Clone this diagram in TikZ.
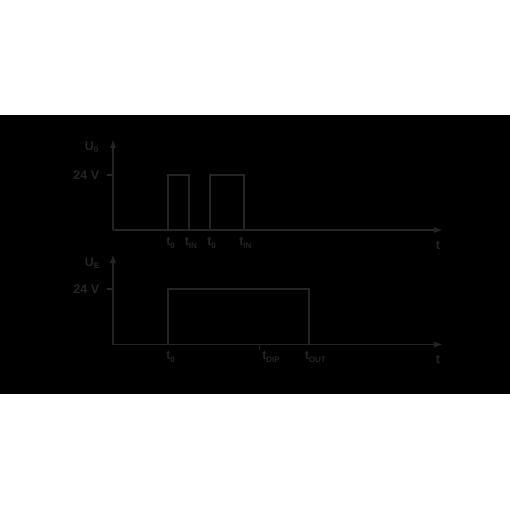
\documentclass[tikz,border=0pt]{standalone}
\usepackage{fontspec}
\setmainfont{Liberation Sans}
\usetikzlibrary{arrows.meta}
\definecolor{ink}{gray}{0.14}
\newcommand{\tlab}[1]{t\raisebox{-3pt}{\fontsize{8}{8}\selectfont #1}}
\newcommand{\ulab}[1]{U\raisebox{-2pt}{\fontsize{8}{8}\selectfont #1}}

\begin{document}
\begin{tikzpicture}[x=1pt, y=-1pt, line width=1.6pt, >={Latex[length=9pt,width=6pt]},
	lbl/.style={font=\bfseries\fontsize{12.5}{14}\selectfont, text=ink, inner sep=0pt}]
	\useasboundingbox (0,0) rectangle (510,510);
	\fill[white] (0,0) rectangle (510,510);
	\fill[black] (0,115.5) rectangle (510,394);
	
	% upper plot
	\coordinate (oa) at (113,230);
	\draw[ink,->] (oa) -- (113,139) coordinate (ya);
	\draw[ink,->] (oa) -- (443,230) coordinate (xa);
	\draw[ink] (107,175) -- (113,175);
	\draw[ink] (168,230) -- (168,175) -- (189,175) -- (189,230);
	\draw[ink] (210,230) -- (210,175) -- (244,175) -- (244,230);
	
	\node[lbl, anchor=base west] (ua) at (84,151) {\ulab{0}};
	\node[lbl, anchor=base east] (va) at (100,179.5) {24 V};
	\node[lbl, anchor=base west] (ta) at (435,249) {t};
	\node[lbl, anchor=base west] (t0a) at (165.5,245) {\tlab{0}};
	\node[lbl, anchor=base west] (tia) at (184,245) {\tlab{IN}};
	\node[lbl, anchor=base west] (t0b) at (206.5,245) {\tlab{0}};
	\node[lbl, anchor=base west] (tib) at (238.5,245) {\tlab{IN}};
	
	% lower plot
	\coordinate (ob) at (113,344.5);
	\draw[ink,->] (ob) -- (113,254) coordinate (yb);
	\draw[ink,->] (ob) -- (443,344.5) coordinate (xb);
	\draw[ink] (107,289) -- (113,289);
	\draw[ink] (168,344.5) -- (168,289) -- (309,289) -- (309,344.5);
	\draw[ink, line width=1pt] (259,344.5) -- (259,349.5);
	
	\node[lbl, anchor=base west] (ub) at (84,266) {\ulab{E}};
	\node[lbl, anchor=base east] (vb) at (100,293.5) {24 V};
	\node[lbl, anchor=base west] (tb) at (435,363) {t};
	\node[lbl, anchor=base west] (t0c) at (165.5,359) {\tlab{0}};
	\node[lbl, anchor=base west] (tdip) at (261.5,359) {\tlab{DIP}};
	\node[lbl, anchor=base west] (tout) at (304,359) {\tlab{OUT}};
\end{tikzpicture}
\end{document}
